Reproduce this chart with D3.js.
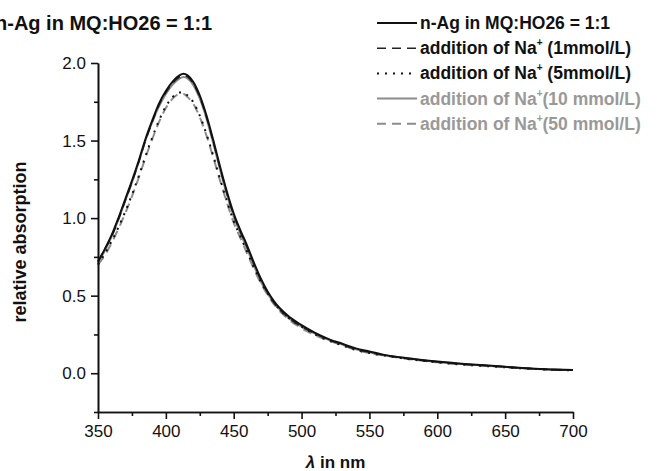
<!doctype html>
<html lang="en">
	<head>
	<meta charset="utf-8">
	<script src="https://cdnjs.cloudflare.com/ajax/libs/d3/7.8.5/d3.min.js"></script>

	<style type="text/css">
		body {
			margin: 0;
			font-family: 'Liberation Sans', Arial, sans-serif;
			background: #fff;
		}

		.axis path, .axis line {
			stroke: #111;
			stroke-width: 1.6px;
		}

		.axis text {
			fill: #111;
			font-size: 17px;
			font-family: 'Liberation Sans', Arial, sans-serif;
		}
	</style>
	</head>
	<body>

	<script>

	// wavelengths (nm)
	const wavelength = [350, 355, 360, 365, 370, 375, 380, 385, 390, 395, 400, 405, 410, 413, 416, 420, 425, 430, 435, 440, 445, 450, 455, 460, 465, 470, 480, 490, 500, 510, 520, 530, 540, 550, 560, 580, 600, 620, 640, 660, 680, 700];

	// n-Ag in MQ:HO26 = 1:1
	const agPure = [0.72, 0.80, 0.89, 1.00, 1.12, 1.24, 1.37, 1.51, 1.63, 1.74, 1.82, 1.88, 1.92, 1.93, 1.92, 1.88, 1.79, 1.66, 1.50, 1.33, 1.17, 1.03, 0.92, 0.82, 0.71, 0.61, 0.46, 0.37, 0.31, 0.26, 0.22, 0.19, 0.16, 0.14, 0.12, 0.095, 0.075, 0.06, 0.048, 0.035, 0.025, 0.02];
	// Na+ 1 mmol/L
	const na1 = [0.72, 0.80, 0.88, 0.99, 1.11, 1.23, 1.36, 1.50, 1.62, 1.73, 1.81, 1.87, 1.91, 1.92, 1.91, 1.87, 1.78, 1.65, 1.49, 1.32, 1.16, 1.02, 0.91, 0.81, 0.70, 0.60, 0.45, 0.36, 0.30, 0.255, 0.215, 0.185, 0.155, 0.135, 0.118, 0.093, 0.073, 0.058, 0.047, 0.034, 0.025, 0.02];
	// Na+ 5 mmol/L
	const na5 = [0.70, 0.77, 0.85, 0.94, 1.04, 1.15, 1.27, 1.40, 1.52, 1.63, 1.72, 1.78, 1.81, 1.81, 1.79, 1.75, 1.66, 1.54, 1.40, 1.25, 1.11, 0.98, 0.88, 0.78, 0.68, 0.59, 0.45, 0.36, 0.30, 0.25, 0.21, 0.18, 0.15, 0.13, 0.115, 0.09, 0.07, 0.055, 0.044, 0.033, 0.024, 0.018];
	// Na+ 10 mmol/L
	const na10 = [0.71, 0.79, 0.88, 0.99, 1.11, 1.23, 1.36, 1.50, 1.62, 1.72, 1.80, 1.86, 1.90, 1.91, 1.90, 1.86, 1.77, 1.64, 1.48, 1.31, 1.15, 1.01, 0.90, 0.80, 0.69, 0.59, 0.45, 0.36, 0.30, 0.255, 0.215, 0.185, 0.155, 0.135, 0.118, 0.093, 0.073, 0.058, 0.047, 0.034, 0.025, 0.02];
	// Na+ 50 mmol/L
	const na50 = [0.70, 0.76, 0.84, 0.93, 1.03, 1.14, 1.26, 1.39, 1.51, 1.62, 1.71, 1.77, 1.80, 1.80, 1.78, 1.74, 1.65, 1.53, 1.39, 1.24, 1.10, 0.97, 0.87, 0.77, 0.67, 0.58, 0.44, 0.35, 0.29, 0.245, 0.21, 0.18, 0.15, 0.13, 0.115, 0.09, 0.07, 0.055, 0.045, 0.035, 0.025, 0.02];

	const xTicks = [350, 400, 450, 500, 550, 600, 650, 700];
	const yTicks = [0.0, 0.5, 1.0, 1.5, 2.0];

	const seriesNames = ["n-Ag in MQ:HO26 = 1:1", "addition of Na", "addition of Na", "addition of Na", "addition of Na"];
	const seriesSuffix = ["", " (1mmol/L)", " (5mmol/L)", "(10 mmol/L)", "(50 mmol/L)"];

	const w = 664;
	const h = 471;
	const plotLeft = 98, plotRight = 573, plotTop = 63, plotBottom = 412;

	const xScale = d3.scaleLinear().domain([350, 700]).range([plotLeft, plotRight]);
	const yScale = d3.scaleLinear().domain([-0.25, 2.0]).range([plotBottom, plotTop]);

	const svg = d3.select("body")
		.append("svg")
		.attr("width", w)
		.attr("height", h);

	// Curves
	const styles = [
		{data: agPure, color: "#111", dash: null, width: 2},
		{data: na1, color: "#222", dash: "9,6", width: 1.6},
		{data: na5, color: "#111", dash: "2,6", width: 2},
		{data: na10, color: "#8c8c8c", dash: null, width: 2},
		{data: na50, color: "#8c8c8c", dash: "9,6", width: 2}
	];

	const line = d3.line()
		.x(d => xScale(d[0]))
		.y(d => yScale(d[1]))
		.curve(d3.curveMonotoneX);

	// draw back to front so black solid ends up on top
	[4, 3, 2, 1, 0].forEach(i => {
		const s = styles[i];
		svg.append("path")
			.datum(wavelength.map((x, j) => [x, s.data[j]]))
			.attr("d", line)
			.attr("fill", "none")
			.attr("stroke", s.color)
			.attr("stroke-width", s.width)
			.attr("stroke-dasharray", s.dash);
	});

	// Axes
	const xAxis = d3.axisBottom(xScale).tickValues(xTicks).tickFormat(d3.format("d")).tickSize(7).tickSizeOuter(0).tickPadding(6);
	const yAxis = d3.axisLeft(yScale).tickValues(yTicks).tickFormat(d3.format(".1f")).tickSize(7).tickSizeOuter(0).tickPadding(5);

	const xMinor = d3.axisBottom(xScale).tickValues(d3.range(375, 700, 50)).tickFormat("").tickSize(4).tickSizeOuter(0);
	const yMinor = d3.axisLeft(yScale).tickValues([-0.25, 0.25, 0.75, 1.25, 1.75]).tickFormat("").tickSize(4).tickSizeOuter(0);

	svg.append("g").attr("class", "axis").attr("transform", "translate(0," + plotBottom + ")").call(xMinor);
	svg.append("g").attr("class", "axis").attr("transform", "translate(" + plotLeft + ",0)").call(yMinor);

	svg.append("g")
		.attr("class", "axis")
		.attr("transform", "translate(0," + plotBottom + ")")
		.call(xAxis);

	svg.append("g")
		.attr("class", "axis")
		.attr("transform", "translate(" + plotLeft + ",0)")
		.call(yAxis);

	// Axis titles
	const xTitle = svg.append("text")
		.attr("x", (plotLeft + plotRight) / 2)
		.attr("y", 468)
		.attr("text-anchor", "middle")
		.attr("font-size", "17px")
		.attr("font-weight", "bold")
		.attr("fill", "#111");
	xTitle.append("tspan").attr("font-style", "italic").text("λ");
	xTitle.append("tspan").text(" in nm");

	svg.append("text")
		.attr("transform", "rotate(-90)")
		.attr("x", -242)
		.attr("y", 26)
		.attr("text-anchor", "middle")
		.attr("font-size", "18px")
		.attr("font-weight", "bold")
		.attr("fill", "#111")
		.text("relative absorption");

	// Title (left edge cut off as in the original figure)
	svg.append("text")
		.attr("x", -5)
		.attr("y", 30)
		.attr("font-size", "20px")
		.attr("font-weight", "bold")
		.attr("fill", "#111")
		.text("n-Ag in MQ:HO26 = 1:1");

	// Legend
	const legend = svg.append("g").attr("id", "legend");
	const textColors = ["#111", "#111", "#111", "#999", "#999"];

	styles.forEach((s, i) => {
		const yy = 23 + i * 25.2;
		legend.append("line")
			.attr("x1", 377).attr("x2", 417)
			.attr("y1", yy).attr("y2", yy)
			.attr("stroke", s.color)
			.attr("stroke-width", s.width)
			.attr("stroke-dasharray", s.dash);
		const t = legend.append("text")
			.attr("x", 420)
			.attr("y", yy + 6)
			.attr("font-size", "17.5px")
			.attr("font-weight", "bold")
			.attr("fill", textColors[i]);
		t.append("tspan").text(seriesNames[i]);
		if (i > 0) {
			t.append("tspan").attr("font-size", "10px").attr("dy", -8).text("+");
			t.append("tspan").attr("dy", 8).text(seriesSuffix[i]);
		}
	});

	</script>
	</body>
</html>
